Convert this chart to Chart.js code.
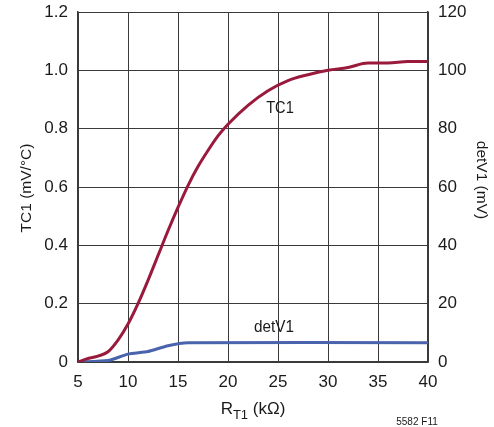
<!DOCTYPE html>
<html>
<head>
<meta charset="utf-8">
<script src="https://cdn.jsdelivr.net/npm/chart.js@4/dist/chart.umd.min.js"></script>
<style>
  html, body { margin: 0; padding: 0; background: #ffffff; }
  #wrap { width: 494px; height: 427px; }
</style>
</head>
<body>
<div id="wrap"><canvas id="tcChart" width="494" height="427"></canvas></div>
<script>
const rtValues = [5, 6, 7, 8, 9, 10, 11, 12, 13, 14, 15, 16, 17, 18, 19, 20, 22, 24, 26, 28, 30, 32, 34, 36, 38, 40];
const tc1Values = [0, 0.012, 0.02, 0.035, 0.075, 0.13, 0.2, 0.28, 0.365, 0.45, 0.53, 0.605, 0.67, 0.725, 0.775, 0.815, 0.88, 0.93, 0.965, 0.985, 1.0, 1.01, 1.025, 1.025, 1.03, 1.03];
const detRtValues = [5, 8, 10, 12, 14, 16, 40];
const detV1Values = [0, 0.5, 2.7, 3.6, 5.6, 6.6, 6.6];
const xTicks = [5, 10, 15, 20, 25, 30, 35, 40];

const FONT = '"Liberation Sans", Arial, sans-serif';
const RED = '#9a1a3c';
const BLUE = '#4a63ad';
const GRID = '#3a3a3a';

// draw text squeezed horizontally, like the condensed face in the original
const narrowText = (c, str, x, y, sx) => {
  c.save();
  c.translate(x, y);
  c.scale(sx, 1);
  c.fillText(str, 0, 0);
  c.restore();
};

const textPlugin = {
  id: 'extraText',
  afterDraw(chart) {
    const c = chart.ctx;
    const x = chart.scales.x;
    const yl = chart.scales.y;
    const yr = chart.scales.y2;
    c.save();
    c.fillStyle = '#1a1a1a';
    c.textBaseline = 'middle';
    c.textAlign = 'center';

    // curve labels
    c.font = '17px ' + FONT;
    narrowText(c, 'TC1', x.getPixelForValue(25.2), yl.getPixelForValue(0.87), 0.86);
    narrowText(c, 'detV1', x.getPixelForValue(24.6), yr.getPixelForValue(12), 0.9);

    // left title
    c.font = '15.5px ' + FONT;
    c.save();
    c.translate(27, 188);
    c.rotate(-Math.PI / 2);
    c.fillText('TC1 (mV/°C)', 0, 0);
    c.restore();

    // right title
    c.save();
    c.translate(481, 180);
    c.rotate(Math.PI / 2);
    c.fillText('detV1 (mV)', 0, 0);
    c.restore();

    // x title with subscript
    c.textAlign = 'left';
    c.textBaseline = 'alphabetic';
    const parts = [['R', 17, 0], ['T1', 13, 5], [' (kΩ)', 17, 0]];
    let w = 0;
    parts.forEach(p => { c.font = p[1] + 'px ' + FONT; w += c.measureText(p[0]).width; });
    let px = 253 - w / 2;
    parts.forEach(p => {
      c.font = p[1] + 'px ' + FONT;
      c.fillText(p[0], px, 414 + p[2]);
      px += c.measureText(p[0]).width;
    });

    c.font = '10px ' + FONT;
    c.textAlign = 'center';
    c.textBaseline = 'middle';
    c.fillText('5582 F11', 417, 422);
    c.restore();
  }
};

const noPad = (s) => { s.paddingTop = 0; s.paddingBottom = 0; s.paddingLeft = 0; s.paddingRight = 0; };

const ctx = document.getElementById('tcChart').getContext('2d');
const tcChart = new Chart(ctx, {
  type: 'line',
  data: {
    datasets: [
      {
        label: 'TC1',
        data: rtValues.map((r, i) => ({ x: r, y: tc1Values[i] })),
        borderColor: RED,
        borderWidth: 3,
        pointRadius: 0,
        cubicInterpolationMode: 'monotone',
        yAxisID: 'y',
      },
      {
        label: 'detV1',
        data: detRtValues.map((r, i) => ({ x: r, y: detV1Values[i] })),
        borderColor: BLUE,
        borderWidth: 3,
        pointRadius: 0,
        tension: 0.2,
        yAxisID: 'y2',
      },
    ],
  },
  options: {
    responsive: false,
    animation: false,
    layout: { padding: { top: 12, left: 0, right: 0, bottom: 0 } },
    plugins: { legend: { display: false }, tooltip: { enabled: false } },
    scales: {
      x: {
        type: 'linear',
        min: 5,
        max: 40,
        afterBuildTicks: (s) => { s.ticks = xTicks.map(v => ({ value: v })); },
        afterFit: (s) => { s.height = 65; noPad(s); },
        grid: { color: GRID, lineWidth: 1, drawTicks: false },
        border: { color: GRID, width: 1.5 },
        ticks: { color: '#1a1a1a', font: { family: FONT, size: 17 }, padding: 10, maxRotation: 0 },
      },
      y: {
        position: 'left',
        min: 0,
        max: 1.2,
        afterFit: (s) => { s.width = 78; noPad(s); },
        grid: { color: GRID, lineWidth: 1, drawTicks: false },
        border: { color: GRID, width: 1.5 },
        ticks: {
          stepSize: 0.2,
          color: '#1a1a1a',
          font: { family: FONT, size: 17 },
          padding: 10,
          callback: (v) => (v === 0 ? '0' : v.toFixed(1)),
        },
      },
      y2: {
        position: 'right',
        min: 0,
        max: 120,
        afterFit: (s) => { s.width = 66; noPad(s); },
        grid: { drawOnChartArea: false, drawTicks: false },
        border: { color: GRID, width: 1.5 },
        ticks: { stepSize: 20, color: '#1a1a1a', font: { family: FONT, size: 17 }, padding: 10 },
      },
    },
  },
  plugins: [textPlugin],
});
</script>
</body>
</html>
